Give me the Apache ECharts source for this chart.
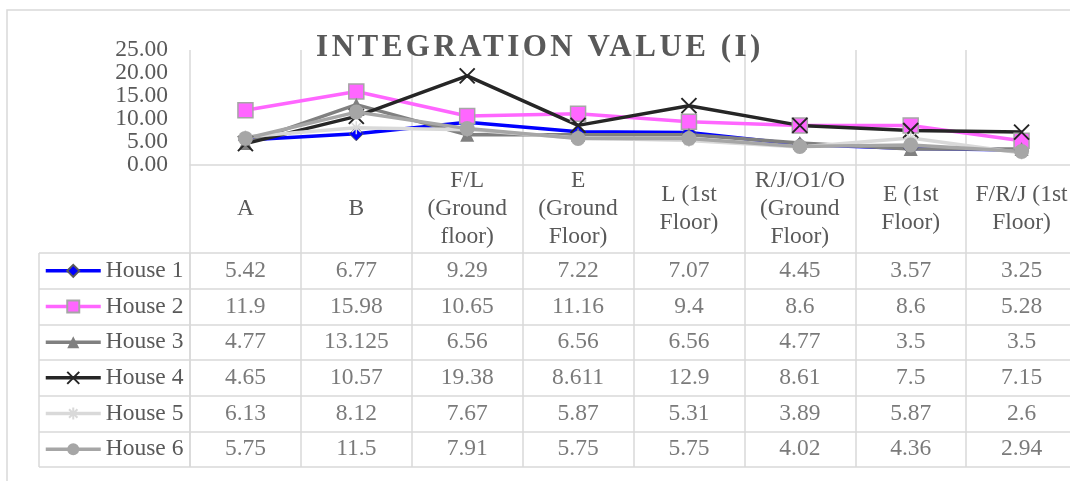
<!DOCTYPE html>
<html>
<head>
<meta charset="utf-8">
<script src="https://cdn.jsdelivr.net/npm/echarts@6/dist/echarts.min.js"></script>
<style>
html,body{margin:0;padding:0;background:#fff;overflow:hidden;width:1070px;height:481px;}
#chart{width:1090px;height:481px;}
</style>
</head>
<body>
<div id="chart"></div>
<script>
// ---- data ----
const titleText = 'INTEGRATION VALUE (I)';
const categories = ['A', 'B', 'F/L\n(Ground\nfloor)', 'E\n(Ground\nFloor)', 'L (1st\nFloor)', 'R/J/O1/O\n(Ground\nFloor)', 'E (1st\nFloor)', 'F/R/J (1st\nFloor)'];
const houseNames = ['House 1', 'House 2', 'House 3', 'House 4', 'House 5', 'House 6'];
const house1 = [5.42, 6.77, 9.29, 7.22, 7.07, 4.45, 3.57, 3.25];
const house2 = [11.9, 15.98, 10.65, 11.16, 9.4, 8.6, 8.6, 5.28];
const house3 = [4.77, 13.125, 6.56, 6.56, 6.56, 4.77, 3.5, 3.5];
const house4 = [4.65, 10.57, 19.38, 8.611, 12.9, 8.61, 7.5, 7.15];
const house5 = [6.13, 8.12, 7.67, 5.87, 5.31, 3.89, 5.87, 2.6];
const house6 = [5.75, 11.5, 7.91, 5.75, 5.75, 4.02, 4.36, 2.94];
const yMin = 0, yMax = 25, yStep = 5;

const houseValues = [house1, house2, house3, house4, house5, house6];

// ---- styles ----
const FONT = '"Liberation Serif", "Times New Roman", serif';
const FS = 23.5;
const TXT = '#595959';
const GRID = '#d9d9d9';
const seriesStyles = [
  { color: '#0000ff', symbol: 'diamond', size: 14, fill: '#0000ff', border: '#595959', bw: 1 },
  { color: '#ff66ff', symbol: 'rect', size: 15, fill: '#ff66ff', border: '#a6a6a6', bw: 1.5 },
  { color: '#808080', symbol: 'triangle', size: 14, fill: '#808080', border: '#808080', bw: 0 },
  { color: '#262626', symbol: 'path://M0,0L10,10M10,0L0,10', size: 15, fill: 'none', border: '#262626', bw: 2 },
  { color: '#d9d9d9', symbol: 'path://M5,0L5,10M0,5L10,5M1.5,1.5L8.5,8.5M8.5,1.5L1.5,8.5', size: 13, fill: 'none', border: '#d9d9d9', bw: 1.5 },
  { color: '#a6a6a6', symbol: 'circle', size: 15, fill: '#a6a6a6', border: '#a6a6a6', bw: 0 }
];

const L = 190, W = 887;
const lineSeries = houseNames.map((n, i) => ({
  name: n,
  type: 'line',
  xAxisIndex: 0, yAxisIndex: 0,
  data: houseValues[i],
  symbol: seriesStyles[i].symbol,
  symbolSize: seriesStyles[i].size,
  showAllSymbol: true,
  lineStyle: { color: seriesStyles[i].color, width: 3.5 },
  itemStyle: { color: seriesStyles[i].fill, borderColor: seriesStyles[i].border, borderWidth: seriesStyles[i].bw },
  emphasis: { disabled: true },
  animation: false,
  z: 3
}));

const tableData = [];
houseValues.forEach((vals, i) => vals.forEach((v, j) => tableData.push([j, i, v])));

const splitStyle = { show: true, lineStyle: { color: GRID, width: 1.5 } };
const rowH = 214 / 6;

const chart = echarts.init(document.getElementById('chart'), null, { renderer: 'canvas' });

// title layer with letter spacing (Excel-style spaced title)
let spaced = false;
try {
  const painter = chart.getZr().painter;
  const layer = painter.getLayer(5);
  if (layer && layer.ctx && ('letterSpacing' in layer.ctx)) {
    layer.ctx.letterSpacing = '3.5px';
    spaced = true;
  }
} catch (e) { spaced = false; }

// the y tick labels are split over two overlaid axes (alternate ticks) so none gets hidden
function yAxisPart(parity) {
  return {
    gridIndex: 0, type: 'value', min: yMin, max: yMax, interval: yStep, position: 'left', offset: 0,
    axisLine: { show: false }, axisTick: { show: false }, splitLine: { show: false },
    axisLabel: { margin: 22, fontFamily: FONT, fontSize: FS, color: TXT,
      showMinLabel: true, showMaxLabel: true,
      formatter: v => (Math.round((v - yMin) / yStep) % 2 === parity ? v.toFixed(2) : '') }
  };
}

const option = {
  animation: false,
  graphic: [
    { type: 'rect', shape: { x: 7, y: 10, width: 1100, height: 520 }, style: { fill: 'none', stroke: GRID, lineWidth: 1.5 }, z: -1 },
    { type: 'text', x: spaced ? 540 : 538, y: 48, scaleX: spaced ? 1 : 1.18, zlevel: 5, z: 10,
      style: { text: titleText, font: 'bold 31px ' + FONT, fill: TXT, align: 'center', verticalAlign: 'middle' } }
  ],
  legend: {
    data: houseNames,
    orient: 'vertical',
    left: 44, top: 253 + rowH / 2 - 12,
    padding: 0,
    itemWidth: 55, itemHeight: 15,
    itemGap: rowH - 24,
    lineStyle: { width: 3.5 },
    textStyle: { fontFamily: FONT, fontSize: FS, color: TXT, lineHeight: 24 },
    selectedMode: false
  },
  grid: [
    { left: L, top: 50, width: W, height: 115 },       // chart
    { left: L, top: 165, width: W, height: 88 },       // header row
    { left: L, top: 253, width: W, height: 214 },      // table body
    { left: 39, top: 253, width: L - 39, height: 214 } // legend column
  ],
  xAxis: [
    { gridIndex: 0, type: 'category', data: categories, boundaryGap: true,
      axisLine: { show: true, lineStyle: { color: GRID, width: 1.5 } },
      axisTick: { show: false }, splitLine: splitStyle,
      axisLabel: { interval: 0, margin: 44, verticalAlign: 'middle', fontFamily: FONT, fontSize: FS, lineHeight: 28, color: TXT, align: 'center' } },
    { gridIndex: 1, type: 'category', data: categories, boundaryGap: true,
      axisLine: { show: false }, axisTick: { show: false }, axisLabel: { show: false }, splitLine: splitStyle },
    { gridIndex: 2, type: 'category', data: categories, boundaryGap: true,
      axisLine: { show: false }, axisTick: { show: false }, axisLabel: { show: false }, splitLine: splitStyle },
    { gridIndex: 3, type: 'value', min: 0, max: 1, interval: 1,
      axisLine: { show: false }, axisTick: { show: false }, axisLabel: { show: false }, splitLine: splitStyle }
  ],
  yAxis: [
    yAxisPart(0),
    { gridIndex: 1, type: 'value', show: false, splitLine: { show: false } },
    { gridIndex: 2, type: 'category', data: houseNames, inverse: true, boundaryGap: true,
      axisLine: { show: false }, axisTick: { show: false }, axisLabel: { show: false }, splitLine: splitStyle },
    { gridIndex: 3, type: 'category', data: houseNames, inverse: true, boundaryGap: true,
      axisLine: { show: false }, axisTick: { show: false }, axisLabel: { show: false }, splitLine: splitStyle },
    yAxisPart(1)
  ],
  series: lineSeries.concat([{
    name: 'table',
    type: 'scatter',
    xAxisIndex: 2, yAxisIndex: 2,
    data: tableData,
    symbolSize: 1,
    itemStyle: { color: 'transparent' },
    label: { show: true, position: 'inside', formatter: p => String(p.value[2]), fontFamily: FONT, fontSize: FS, color: TXT },
    emphasis: { disabled: true },
    silent: true
  }])
};

chart.setOption(option);
</script>
</body>
</html>
